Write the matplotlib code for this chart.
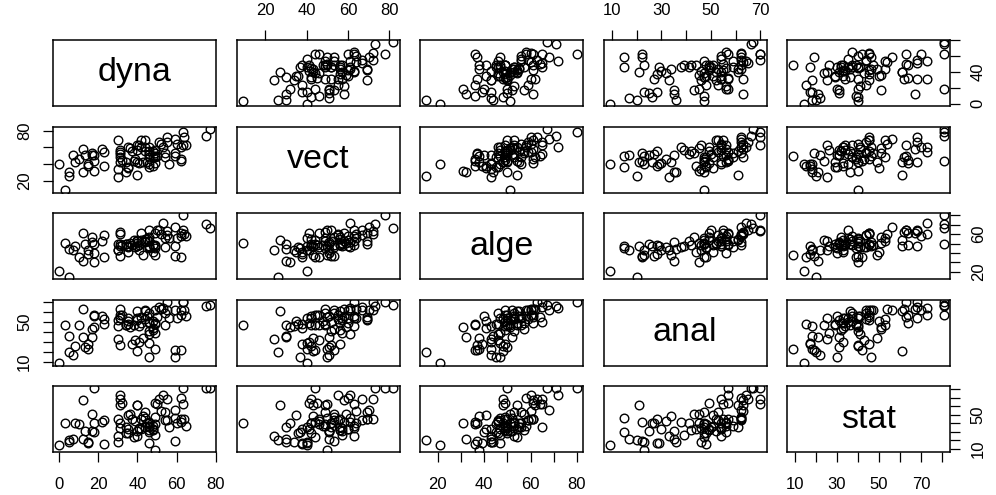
import numpy as np
import matplotlib.pyplot as plt

plt.rcParams['font.family'] = ['Liberation Sans', 'DejaVu Sans']

# exam scores (88 students)
names = ['dyna', 'vect', 'alge', 'anal', 'stat']
dyna = [77, 63, 75, 55, 63, 53, 51, 59, 62, 64, 52, 55, 50, 65, 31, 60, 44, 42, 62, 31,
        44, 49, 12, 49, 54, 54, 44, 18, 46, 32, 30, 46, 40, 31, 36, 56, 46, 45, 42, 40,
        23, 48, 41, 46, 46, 40, 49, 22, 35, 48, 31, 17, 49, 59, 37, 40, 35, 38, 43, 39,
        62, 48, 34, 18, 35, 59, 41, 31, 17, 34, 46, 10, 46, 30, 13, 49, 18, 8, 23, 30,
        3, 7, 15, 15, 5, 12, 5, 0]
vect = [82, 78, 73, 72, 63, 61, 67, 70, 60, 72, 64, 67, 50, 63, 55, 64, 69, 69, 46, 49,
        61, 41, 58, 53, 49, 53, 56, 44, 52, 45, 69, 49, 27, 42, 59, 40, 56, 42, 60, 63,
        55, 48, 63, 52, 61, 57, 49, 58, 60, 56, 57, 53, 57, 50, 56, 43, 35, 44, 43, 46,
        44, 38, 42, 51, 36, 53, 41, 52, 51, 30, 40, 46, 37, 34, 51, 50, 32, 42, 38, 24,
        9, 51, 40, 38, 30, 30, 26, 40]
alge = [67, 80, 71, 63, 65, 72, 65, 68, 58, 60, 60, 59, 64, 58, 60, 56, 53, 61, 61, 62,
        52, 61, 61, 49, 56, 46, 55, 50, 65, 49, 50, 53, 54, 48, 51, 56, 57, 55, 54, 53,
        59, 49, 49, 53, 46, 51, 45, 53, 47, 49, 50, 57, 47, 47, 49, 48, 41, 54, 38, 46,
        36, 41, 50, 40, 46, 37, 43, 37, 52, 50, 47, 36, 45, 43, 50, 38, 31, 48, 36, 43,
        51, 43, 43, 39, 44, 32, 15, 21]
anal = [67, 70, 66, 70, 70, 64, 65, 62, 62, 62, 63, 62, 55, 56, 57, 54, 53, 55, 57, 63,
        62, 49, 63, 62, 47, 59, 61, 57, 50, 57, 52, 59, 61, 54, 45, 54, 49, 56, 49, 54,
        53, 51, 46, 41, 38, 52, 48, 56, 54, 42, 54, 43, 39, 15, 28, 21, 51, 47, 34, 32,
        22, 44, 47, 56, 48, 22, 30, 27, 35, 47, 29, 47, 15, 46, 25, 23, 45, 26, 48, 33,
        47, 17, 23, 28, 36, 35, 20, 9]
stat = [81, 81, 81, 68, 63, 73, 68, 56, 70, 45, 54, 44, 63, 37, 73, 40, 53, 45, 45, 62,
        46, 64, 67, 47, 53, 44, 36, 81, 35, 64, 45, 37, 61, 68, 51, 35, 32, 40, 33, 25,
        44, 37, 34, 40, 41, 31, 39, 41, 33, 32, 34, 51, 26, 46, 45, 61, 50, 24, 49, 43,
        42, 33, 29, 30, 29, 19, 33, 40, 31, 36, 17, 39, 30, 18, 31, 9, 40, 40, 15, 25,
        40, 22, 18, 17, 18, 21, 20, 14]

# axis ticks per variable, and which tick labels R kept on each side
ticks = [[0, 20, 40, 60, 80],
         [20, 40, 60, 80],
         [20, 30, 40, 50, 60, 70, 80],
         [10, 20, 30, 40, 50, 60, 70],
         [10, 20, 30, 40, 50, 60, 70, 80]]
xlabs = [[0, 20, 40, 60, 80], [20, 40, 60, 80], [20, 40, 60, 80],
         [10, 30, 50, 70], [10, 30, 50, 70]]
ylabs = [[0, 40], [20, 80], [20, 60], [10, 50], [10, 50]]

data = [np.array(v, dtype=float) for v in [dyna, vect, alge, anal, stat]]
lims = []
for v in data:
    r = v.max() - v.min()
    lims.append((v.min() - 0.04 * r, v.max() + 0.04 * r))

W, H = 996, 495
fig = plt.figure(figsize=(W / 100, H / 100), dpi=100)

n = len(names)
for i in range(n):        # row -> y variable
    for j in range(n):    # col -> x variable
        left = 53 + j * 183.5
        top = 40 + i * 86.5
        ax = fig.add_axes([left / W, 1 - (top + 66) / H, 163 / W, 66 / H])
        ax.set_xlim(lims[j])
        ax.set_ylim(lims[i])
        for s in ax.spines.values():
            s.set_linewidth(1.1)
        if i == j:
            ax.text(0.5, 0.5, names[i], transform=ax.transAxes, ha='center',
                    va='center', fontsize=24.5)
        else:
            ax.plot(data[j], data[i], 'o', mfc='none', mec='black', ms=6.2, mew=1.0)

        ax.tick_params(length=7, width=0.9, direction='out', labelsize=12, pad=8)
        ax.set_xticks([])
        ax.set_yticks([])
        # bottom axis on odd columns, top axis on even columns (R pairs style)
        if i == n - 1 and j % 2 == 0:
            ax.set_xticks(ticks[j])
            ax.set_xticklabels([str(t) if t in xlabs[j] else '' for t in ticks[j]])
            ax.tick_params(axis='x', pad=11)
        if i == 0 and j % 2 == 1:
            ax.xaxis.tick_top()
            ax.set_xticks(ticks[j])
            ax.set_xticklabels([str(t) if t in xlabs[j] else '' for t in ticks[j]])
            ax.tick_params(axis='x', pad=9)
        if j == 0 and i % 2 == 1:
            ax.set_yticks(ticks[i])
            ax.set_yticklabels([str(t) if t in ylabs[i] else '' for t in ticks[i]],
                               rotation=90, va='center')
        if j == n - 1 and i % 2 == 0:
            ax.yaxis.tick_right()
            ax.set_yticks(ticks[i])
            ax.set_yticklabels([str(t) if t in ylabs[i] else '' for t in ticks[i]],
                               rotation=90, va='center')

fig.savefig('out.png', dpi=100)
